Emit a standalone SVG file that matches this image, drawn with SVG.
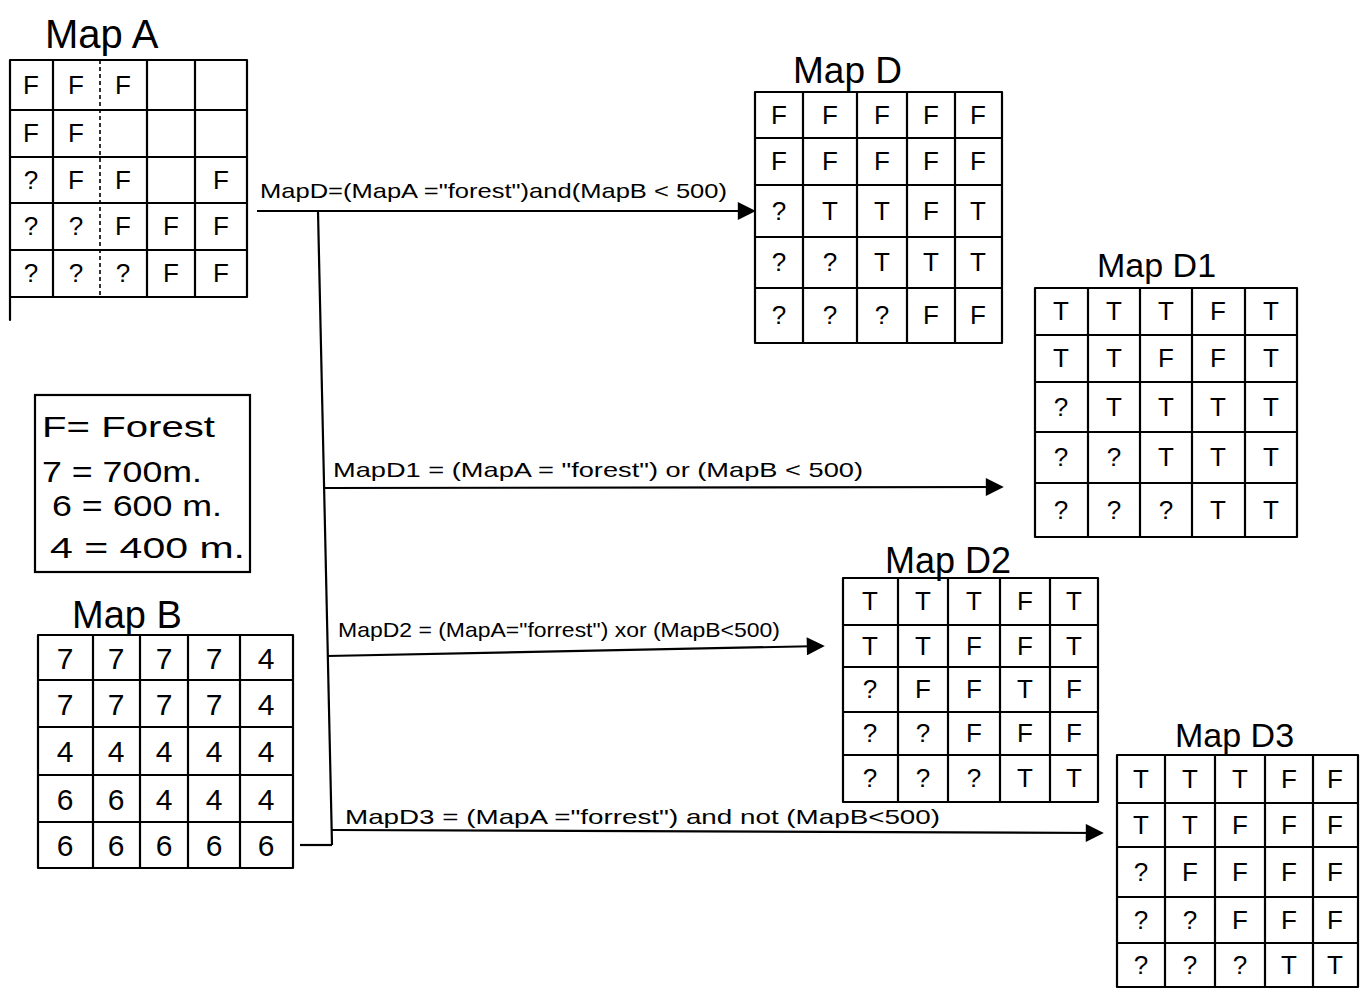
<svg xmlns="http://www.w3.org/2000/svg" width="1371" height="992" viewBox="0 0 1371 992">
<style>
.bg{fill:#fff}
.g{fill:none;stroke:#000;stroke-width:2.2;stroke-linecap:round}
.d{fill:none;stroke:#000;stroke-width:1.6;stroke-dasharray:4 3}
.c{font-family:"Liberation Sans",Arial,sans-serif;font-size:26px;text-anchor:middle;dominant-baseline:central;fill:#000}
.n{font-family:"Liberation Sans",Arial,sans-serif;font-size:30px;text-anchor:middle;dominant-baseline:central;fill:#000}
.t{font-family:"Liberation Sans",Arial,sans-serif;fill:#000}
.l{font-family:"Liberation Sans",Arial,sans-serif;font-size:21px;fill:#000}
.cn{fill:none;stroke:#000;stroke-width:2.2}
</style>
<defs>
<marker id="ah" viewBox="0 0 10 10" refX="9" refY="5" markerUnits="userSpaceOnUse" markerWidth="20" markerHeight="18" orient="auto">
<path d="M0,0 L10,5 L0,10 z" fill="#000"/>
</marker>
</defs>
<rect class="bg" width="1371" height="992"/>

<g id="mapA">
<text class="t" x="45" y="48" font-size="40">Map A</text>
<path class="g" d="M10 60H247M10 110H247M10 157H247M10 203H247M10 250H247M10 297H247M10 60V320M53 60V297M147 60V297M195 60V297M247 60V297"/>
<path class="d" d="M100 60V297"/>
<text class="c" x="31" y="85">F</text><text class="c" x="76" y="85">F</text><text class="c" x="123" y="85">F</text>
<text class="c" x="31" y="133">F</text><text class="c" x="76" y="133">F</text>
<text class="c" x="31" y="180">?</text><text class="c" x="76" y="180">F</text><text class="c" x="123" y="180">F</text><text class="c" x="221" y="180">F</text>
<text class="c" x="31" y="226">?</text><text class="c" x="76" y="226">?</text><text class="c" x="123" y="226">F</text><text class="c" x="171" y="226">F</text><text class="c" x="221" y="226">F</text>
<text class="c" x="31" y="273">?</text><text class="c" x="76" y="273">?</text><text class="c" x="123" y="273">?</text><text class="c" x="171" y="273">F</text><text class="c" x="221" y="273">F</text>
</g>

<g id="legend">
<rect class="g" x="35" y="395" width="215" height="177"/>
<text class="t" x="42" y="437" font-size="30" textLength="173" lengthAdjust="spacingAndGlyphs">F= Forest</text>
<text class="t" x="42" y="482" font-size="30" textLength="160" lengthAdjust="spacingAndGlyphs">7 = 700m.</text>
<text class="t" x="52" y="516" font-size="30" textLength="170" lengthAdjust="spacingAndGlyphs">6 = 600 m.</text>
<text class="t" x="50" y="558" font-size="30" textLength="195" lengthAdjust="spacingAndGlyphs">4 = 400 m.</text>
</g>

<g id="mapB">
<text class="t" x="72" y="628" font-size="38">Map B</text>
<path class="g" d="M38 635H293M38 680H293M38 727H293M38 775H293M38 822H293M38 868H293M38 635V868M93 635V868M140 635V868M188 635V868M240 635V868M293 635V868"/>
<text class="n" x="65" y="658">7</text><text class="n" x="116" y="658">7</text><text class="n" x="164" y="658">7</text><text class="n" x="214" y="658">7</text><text class="n" x="266" y="658">4</text>
<text class="n" x="65" y="704">7</text><text class="n" x="116" y="704">7</text><text class="n" x="164" y="704">7</text><text class="n" x="214" y="704">7</text><text class="n" x="266" y="704">4</text>
<text class="n" x="65" y="751">4</text><text class="n" x="116" y="751">4</text><text class="n" x="164" y="751">4</text><text class="n" x="214" y="751">4</text><text class="n" x="266" y="751">4</text>
<text class="n" x="65" y="799">6</text><text class="n" x="116" y="799">6</text><text class="n" x="164" y="799">4</text><text class="n" x="214" y="799">4</text><text class="n" x="266" y="799">4</text>
<text class="n" x="65" y="845">6</text><text class="n" x="116" y="845">6</text><text class="n" x="164" y="845">6</text><text class="n" x="214" y="845">6</text><text class="n" x="266" y="845">6</text>
</g>

<g id="mapD">
<text class="t" x="793" y="83" font-size="37">Map D</text>
<path class="g" d="M755 92H1002M755 138H1002M755 185H1002M755 237H1002M755 288H1002M755 343H1002M755 92V343M803 92V343M857 92V343M907 92V343M955 92V343M1002 92V343"/>
<text class="c" x="779" y="115">F</text><text class="c" x="830" y="115">F</text><text class="c" x="882" y="115">F</text><text class="c" x="931" y="115">F</text><text class="c" x="978" y="115">F</text>
<text class="c" x="779" y="161">F</text><text class="c" x="830" y="161">F</text><text class="c" x="882" y="161">F</text><text class="c" x="931" y="161">F</text><text class="c" x="978" y="161">F</text>
<text class="c" x="779" y="211">?</text><text class="c" x="830" y="211">T</text><text class="c" x="882" y="211">T</text><text class="c" x="931" y="211">F</text><text class="c" x="978" y="211">T</text>
<text class="c" x="779" y="262">?</text><text class="c" x="830" y="262">?</text><text class="c" x="882" y="262">T</text><text class="c" x="931" y="262">T</text><text class="c" x="978" y="262">T</text>
<text class="c" x="779" y="315">?</text><text class="c" x="830" y="315">?</text><text class="c" x="882" y="315">?</text><text class="c" x="931" y="315">F</text><text class="c" x="978" y="315">F</text>
</g>

<g id="mapD1">
<text class="t" x="1097" y="277" font-size="34">Map D1</text>
<path class="g" d="M1035 288H1297M1035 335H1297M1035 382H1297M1035 432H1297M1035 483H1297M1035 537H1297M1035 288V537M1088 288V537M1140 288V537M1192 288V537M1245 288V537M1297 288V537"/>
<text class="c" x="1061" y="311">T</text><text class="c" x="1114" y="311">T</text><text class="c" x="1166" y="311">T</text><text class="c" x="1218" y="311">F</text><text class="c" x="1271" y="311">T</text>
<text class="c" x="1061" y="358">T</text><text class="c" x="1114" y="358">T</text><text class="c" x="1166" y="358">F</text><text class="c" x="1218" y="358">F</text><text class="c" x="1271" y="358">T</text>
<text class="c" x="1061" y="407">?</text><text class="c" x="1114" y="407">T</text><text class="c" x="1166" y="407">T</text><text class="c" x="1218" y="407">T</text><text class="c" x="1271" y="407">T</text>
<text class="c" x="1061" y="457">?</text><text class="c" x="1114" y="457">?</text><text class="c" x="1166" y="457">T</text><text class="c" x="1218" y="457">T</text><text class="c" x="1271" y="457">T</text>
<text class="c" x="1061" y="510">?</text><text class="c" x="1114" y="510">?</text><text class="c" x="1166" y="510">?</text><text class="c" x="1218" y="510">T</text><text class="c" x="1271" y="510">T</text>
</g>

<g id="mapD2">
<text class="t" x="885" y="573" font-size="36">Map D2</text>
<path class="g" d="M843 578H1098M843 625H1098M843 667H1098M843 712H1098M843 755H1098M843 802H1098M843 578V802M898 578V802M948 578V802M1000 578V802M1050 578V802M1098 578V802"/>
<text class="c" x="870" y="601">T</text><text class="c" x="923" y="601">T</text><text class="c" x="974" y="601">T</text><text class="c" x="1025" y="601">F</text><text class="c" x="1074" y="601">T</text>
<text class="c" x="870" y="646">T</text><text class="c" x="923" y="646">T</text><text class="c" x="974" y="646">F</text><text class="c" x="1025" y="646">F</text><text class="c" x="1074" y="646">T</text>
<text class="c" x="870" y="689">?</text><text class="c" x="923" y="689">F</text><text class="c" x="974" y="689">F</text><text class="c" x="1025" y="689">T</text><text class="c" x="1074" y="689">F</text>
<text class="c" x="870" y="733">?</text><text class="c" x="923" y="733">?</text><text class="c" x="974" y="733">F</text><text class="c" x="1025" y="733">F</text><text class="c" x="1074" y="733">F</text>
<text class="c" x="870" y="778">?</text><text class="c" x="923" y="778">?</text><text class="c" x="974" y="778">?</text><text class="c" x="1025" y="778">T</text><text class="c" x="1074" y="778">T</text>
</g>

<g id="mapD3">
<text class="t" x="1175" y="747" font-size="34">Map D3</text>
<path class="g" d="M1117 755H1358M1117 803H1358M1117 847H1358M1117 897H1358M1117 943H1358M1117 987H1358M1117 755V987M1165 755V987M1215 755V987M1265 755V987M1313 755V987M1358 755V987"/>
<text class="c" x="1141" y="779">T</text><text class="c" x="1190" y="779">T</text><text class="c" x="1240" y="779">T</text><text class="c" x="1289" y="779">F</text><text class="c" x="1335" y="779">F</text>
<text class="c" x="1141" y="825">T</text><text class="c" x="1190" y="825">T</text><text class="c" x="1240" y="825">F</text><text class="c" x="1289" y="825">F</text><text class="c" x="1335" y="825">F</text>
<text class="c" x="1141" y="872">?</text><text class="c" x="1190" y="872">F</text><text class="c" x="1240" y="872">F</text><text class="c" x="1289" y="872">F</text><text class="c" x="1335" y="872">F</text>
<text class="c" x="1141" y="920">?</text><text class="c" x="1190" y="920">?</text><text class="c" x="1240" y="920">F</text><text class="c" x="1289" y="920">F</text><text class="c" x="1335" y="920">F</text>
<text class="c" x="1141" y="965">?</text><text class="c" x="1190" y="965">?</text><text class="c" x="1240" y="965">?</text><text class="c" x="1289" y="965">T</text><text class="c" x="1335" y="965">T</text>
</g>

<g id="connectors">
<path class="cn" d="M257 211H754" marker-end="url(#ah)"/>
<path class="cn" d="M318 211L332 845"/>
<path class="cn" d="M324 488L1002 487" marker-end="url(#ah)"/>
<path class="cn" d="M327 656L823 646" marker-end="url(#ah)"/>
<path class="cn" d="M332 830L1102 833" marker-end="url(#ah)"/>
<path class="cn" d="M300 845H332"/>
<text class="l" x="260" y="198" textLength="467" lengthAdjust="spacingAndGlyphs">MapD=(MapA ="forest")and(MapB &lt; 500)</text>
<text class="l" x="333" y="477" textLength="530" lengthAdjust="spacingAndGlyphs">MapD1 = (MapA = "forest") or (MapB &lt; 500)</text>
<text class="l" x="338" y="637" textLength="442" lengthAdjust="spacingAndGlyphs">MapD2 = (MapA="forrest") xor (MapB&lt;500)</text>
<text class="l" x="345" y="824" textLength="595" lengthAdjust="spacingAndGlyphs">MapD3 = (MapA ="forrest") and not (MapB&lt;500)</text>
</g>
</svg>
